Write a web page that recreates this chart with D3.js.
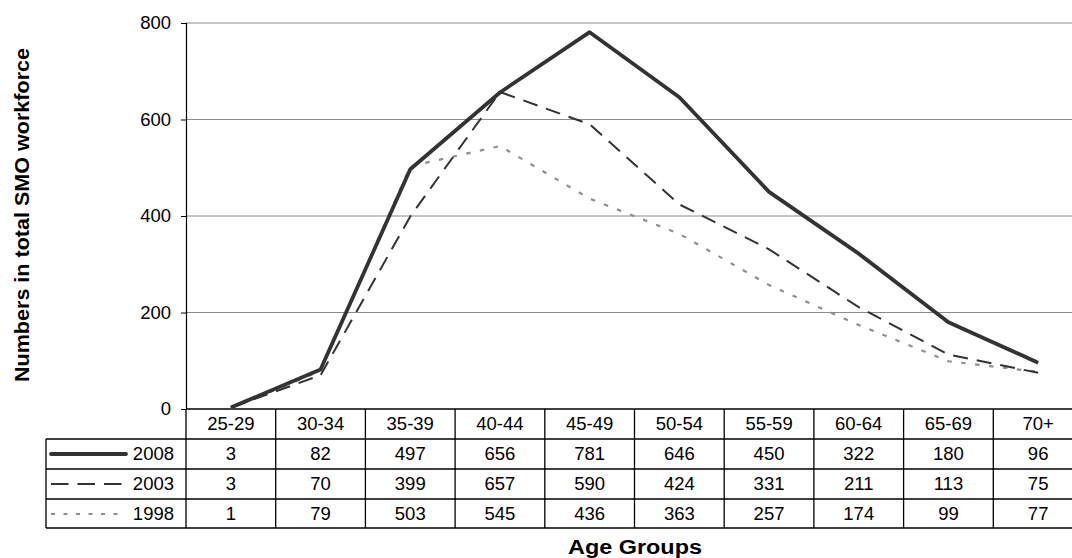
<!DOCTYPE html>
<html>
<head>
<meta charset="utf-8">
<script src="https://cdn.jsdelivr.net/npm/d3@7"></script>
<style>
body { margin: 0; background: #fff; }
svg { font-family: "Liberation Sans", Arial, sans-serif; }
</style>
</head>
<body>
<div id="chart"></div>
<script>
// data from the table under the chart
const ageGroups = ['25-29', '30-34', '35-39', '40-44', '45-49', '50-54', '55-59', '60-64', '65-69', '70+'];
const years = ['2008', '2003', '1998'];
const values2008 = [3, 82, 497, 656, 781, 646, 450, 322, 180, 96];
const values2003 = [3, 70, 399, 657, 590, 424, 331, 211, 113, 75];
const values1998 = [1, 79, 503, 545, 436, 363, 257, 174, 99, 77];
const yTicks = [0, 200, 400, 600, 800];

const series = [
    { name: years[0], values: values2008, color: '#333333', width: 3.8, dash: null, legendDash: null },
    { name: years[1], values: values2003, color: '#333333', width: 2, dash: '15,9', legendDash: '17.5,9' },
    { name: years[2], values: values1998, color: '#8f8f8f', width: 2.2, dash: '4.5,9.5', legendDash: '4,8.5' }
];

const width = 1072;
const height = 558;
const plotLeft = 186;
const plotTop = 23;
const plotBottom = 409;
const colW = 89.7;
const rowH = 30;
const legendLeft = 46;
const fs = 18.5;

const svg = d3.select('#chart')
    .append('svg')
    .attr('width', width)
    .attr('height', height);

const x = d3.scaleBand()
    .domain(ageGroups)
    .range([plotLeft, plotLeft + colW * ageGroups.length]);

const y = d3.scaleLinear()
    .domain([0, 800])
    .range([plotBottom, plotTop]);

// gridlines
svg.append('g')
    .selectAll('line')
    .data(yTicks.filter(d => d > 0))
    .enter()
    .append('line')
    .attr('x1', plotLeft)
    .attr('x2', x.range()[1])
    .attr('y1', d => y(d))
    .attr('y2', d => y(d))
    .attr('stroke', '#8c8c8c')
    .attr('stroke-width', 1);

// y axis
const yAxis = svg.append('g')
    .attr('transform', `translate(${plotLeft},0)`)
    .call(d3.axisLeft(y).tickValues(yTicks).tickSize(5).tickPadding(10));
yAxis.select('.domain').attr('stroke', '#000').attr('stroke-width', 1.2);
yAxis.selectAll('.tick line').attr('stroke', '#000');
yAxis.selectAll('text').attr('font-size', fs).attr('fill', '#000')
    .attr('font-family', '"Liberation Sans", Arial, sans-serif');

// table grid
const tableRight = x.range()[1];
const tableBottom = plotBottom + rowH * (years.length + 1) - 1;
const grid = svg.append('g').attr('stroke', '#000').attr('stroke-width', 1.3);
grid.append('line').attr('x1', plotLeft).attr('x2', tableRight).attr('y1', plotBottom).attr('y2', plotBottom);
for (let i = 1; i <= years.length; i++) {
    grid.append('line').attr('x1', legendLeft).attr('x2', tableRight)
        .attr('y1', plotBottom + i * rowH).attr('y2', plotBottom + i * rowH);
}
grid.append('line').attr('x1', legendLeft).attr('x2', tableRight).attr('y1', tableBottom).attr('y2', tableBottom);
grid.append('line').attr('x1', legendLeft).attr('x2', legendLeft).attr('y1', plotBottom + rowH).attr('y2', tableBottom);
ageGroups.forEach(g => {
    grid.append('line').attr('x1', x(g) + colW).attr('x2', x(g) + colW)
        .attr('y1', plotBottom).attr('y2', tableBottom);
});
grid.append('line').attr('x1', plotLeft).attr('x2', plotLeft).attr('y1', plotBottom).attr('y2', tableBottom);

// header row
svg.append('g')
    .selectAll('text')
    .data(ageGroups)
    .enter()
    .append('text')
    .attr('x', d => x(d) + colW / 2)
    .attr('y', plotBottom + rowH / 2)
    .attr('dy', '0.35em')
    .attr('text-anchor', 'middle')
    .attr('font-size', fs)
    .text(d => d);

// value rows + legend
series.forEach((s, i) => {
    const rowY = plotBottom + rowH * (i + 1) + rowH / 2;
    svg.append('g')
        .selectAll('text')
        .data(s.values)
        .enter()
        .append('text')
        .attr('x', (d, j) => x(ageGroups[j]) + colW / 2)
        .attr('y', rowY)
        .attr('dy', '0.35em')
        .attr('text-anchor', 'middle')
        .attr('font-size', fs)
        .text(d => d);

    svg.append('line')
        .attr('x1', 51)
        .attr('x2', 126)
        .attr('y1', rowY)
        .attr('y2', rowY)
        .attr('stroke', s.color)
        .attr('stroke-width', s.width)
        .attr('stroke-linecap', i === 0 ? 'round' : 'butt')
        .attr('stroke-dasharray', s.legendDash);

    svg.append('text')
        .attr('x', 174)
        .attr('y', rowY)
        .attr('dy', '0.35em')
        .attr('text-anchor', 'end')
        .attr('font-size', fs)
        .text(s.name);
});

// lines, oldest drawn first
const line = d3.line()
    .x((d, i) => x(ageGroups[i]) + colW / 2)
    .y(d => y(d));

series.slice().reverse().forEach(s => {
    svg.append('path')
        .datum(s.values)
        .attr('d', line)
        .attr('fill', 'none')
        .attr('stroke', s.color)
        .attr('stroke-width', s.width)
        .attr('stroke-linejoin', 'round')
        .attr('stroke-dasharray', s.dash);
});

// axis titles
svg.append('text')
    .attr('x', 635)
    .attr('y', 554)
    .attr('text-anchor', 'middle')
    .attr('font-size', 19.5)
    .attr('font-weight', 'bold')
    .attr('textLength', 134)
    .attr('lengthAdjust', 'spacingAndGlyphs')
    .text('Age Groups');

svg.append('text')
    .attr('transform', 'translate(29,215) rotate(-90)')
    .attr('text-anchor', 'middle')
    .attr('font-size', 21)
    .attr('font-weight', 'bold')
    .attr('textLength', 334)
    .attr('lengthAdjust', 'spacingAndGlyphs')
    .text('Numbers in total SMO workforce');
</script>
</body>
</html>
